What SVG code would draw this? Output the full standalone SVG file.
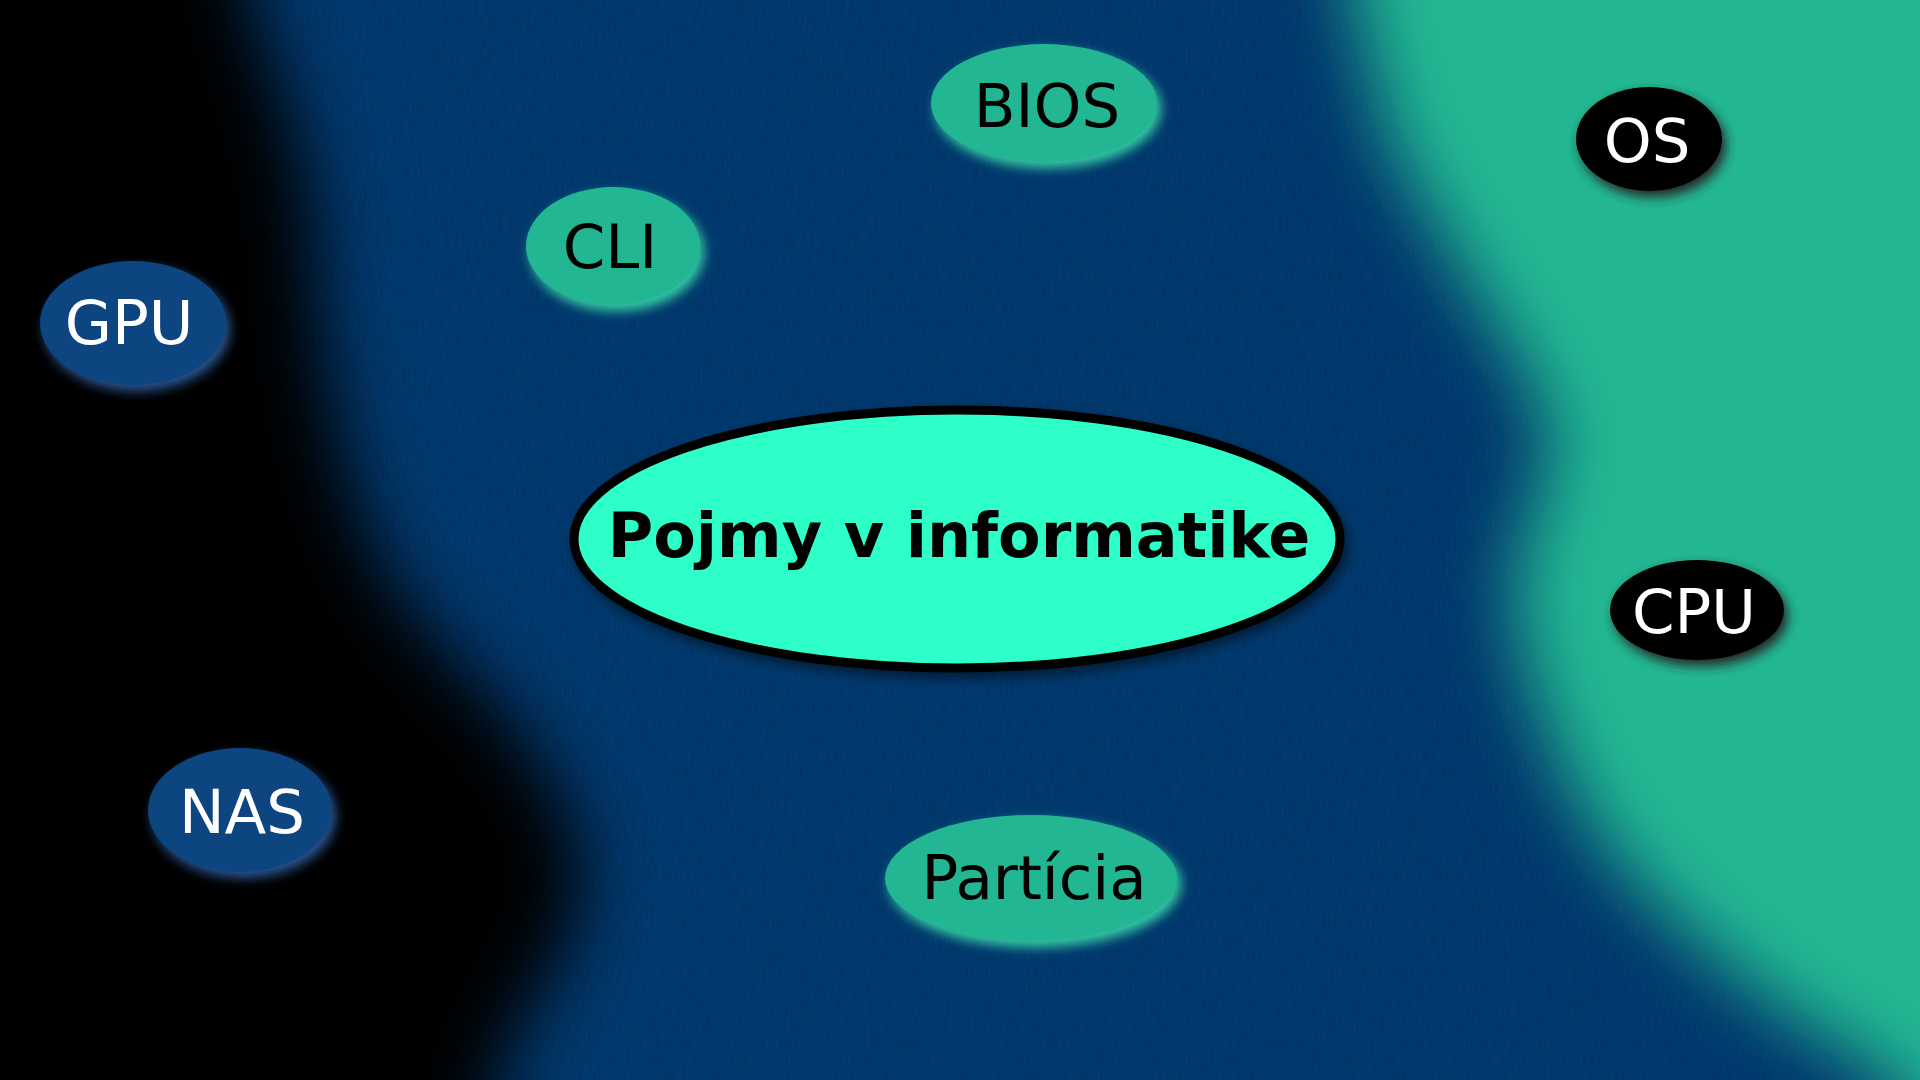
<svg xmlns="http://www.w3.org/2000/svg" width="1920" height="1080" viewBox="0 0 1920 1080">
  <defs>
    <filter id="bgblur" x="-20%" y="-20%" width="140%" height="140%">
      <feGaussianBlur stdDeviation="36"/>
    </filter>
    <filter id="grain" x="0" y="0" width="100%" height="100%">
      <feTurbulence type="fractalNoise" baseFrequency="0.7 0.06" numOctaves="2" seed="4" result="n"/>
      <feColorMatrix in="n" type="matrix" values="0 0 0 0 0  0 0 0 0 0  0 0 0 0 0  0 0 0 -1.2 0.75" />
    </filter>
    <filter id="glow" x="-30%" y="-30%" width="160%" height="170%">
      <feGaussianBlur in="SourceGraphic" stdDeviation="6" result="b"/>
      <feOffset in="b" dx="4" dy="6" result="o"/>
      <feComponentTransfer in="o" result="l">
        <feFuncR type="linear" slope="1.25" intercept="0.02"/>
        <feFuncG type="linear" slope="1.25" intercept="0.02"/>
        <feFuncB type="linear" slope="1.25" intercept="0.02"/>
      </feComponentTransfer>
      <feMerge>
        <feMergeNode in="l"/>
        <feMergeNode in="SourceGraphic"/>
      </feMerge>
    </filter>
    <filter id="shadow" x="-20%" y="-20%" width="140%" height="150%">
      <feGaussianBlur in="SourceAlpha" stdDeviation="6" result="b"/>
      <feOffset in="b" dx="4" dy="6" result="o"/>
      <feComponentTransfer in="o" result="s">
        <feFuncA type="linear" slope="0.5"/>
      </feComponentTransfer>
      <feMerge>
        <feMergeNode in="s"/>
        <feMergeNode in="SourceGraphic"/>
      </feMerge>
    </filter>
    <style>
      .lbl { font-family: "DejaVu Sans", "Liberation Sans", sans-serif; font-size: 61px; text-anchor: middle; }
      .dark { fill: #000000; }
      .light { fill: #ffffff; }
      .teal { fill: #24b792; filter: url(#glow); }
      .blue { fill: #0a4480; filter: url(#glow); }
      .black { fill: #000000; filter: url(#glow); }
      .title { font-family: "DejaVu Sans", "Liberation Sans", sans-serif; font-size: 62px; font-weight: bold; text-anchor: middle; fill: #000000; }
    </style>
  </defs>

  <g id="background">
    <rect x="0" y="0" width="1920" height="1080" fill="#023a70"/>
    <rect x="0" y="0" width="1920" height="1080" filter="url(#grain)" opacity="0.18"/>
    <path filter="url(#bgblur)" fill="#000000" d="M -150 -150 L 240 -150 L 250 0 L 286 100 L 312 200 L 318 300 L 332 400 L 356 500 L 390 580 L 446 650 L 513 720 L 562 800 L 585 870 L 567 950 L 527 1010 L 496 1080 L 480 1230 L -150 1230 Z"/>
    <path filter="url(#bgblur)" fill="#24b792" d="M 1340 -150 L 2070 -150 L 2070 1230 L 1990 1230 L 1893 1080 L 1782 1010 L 1695 940 L 1624 870 L 1577 800 L 1545 725 L 1521 650 L 1513 580 L 1537 500 L 1553 435 L 1521 363 L 1474 290 L 1391 145 L 1355 0 Z"/>
  </g>

  <g id="connectors"></g>

  <g id="node-center">
    <ellipse cx="957" cy="539" rx="383" ry="129" fill="#2effc9" stroke="#000000" stroke-width="9" filter="url(#shadow)"/>
    <text class="title" x="959" y="557">Pojmy v informatike</text>
  </g>

  <g id="node-bios">
    <ellipse class="teal" cx="1044" cy="103" rx="113" ry="59"/>
    <text class="lbl dark" x="1047" y="127">BIOS</text>
  </g>

  <g id="node-cli">
    <ellipse class="teal" cx="613" cy="246" rx="87" ry="59"/>
    <text class="lbl dark" x="610" y="268">CLI</text>
  </g>

  <g id="node-gpu">
    <ellipse class="blue" cx="133" cy="323" rx="93" ry="62"/>
    <text class="lbl light" x="129" y="344">GPU</text>
  </g>

  <g id="node-os">
    <ellipse class="black" cx="1649" cy="139" rx="73" ry="52"/>
    <text class="lbl light" x="1647" y="162">OS</text>
  </g>

  <g id="node-cpu">
    <ellipse class="black" cx="1697" cy="610" rx="87" ry="50"/>
    <text class="lbl light" x="1694" y="633">CPU</text>
  </g>

  <g id="node-nas">
    <ellipse class="blue" cx="240" cy="810" rx="92" ry="62"/>
    <text class="lbl light" x="242" y="833">NAS</text>
  </g>

  <g id="node-particia">
    <ellipse class="teal" cx="1031" cy="878" rx="146" ry="63"/>
    <text class="lbl dark" x="1034" y="899">Partícia</text>
  </g>
</svg>
